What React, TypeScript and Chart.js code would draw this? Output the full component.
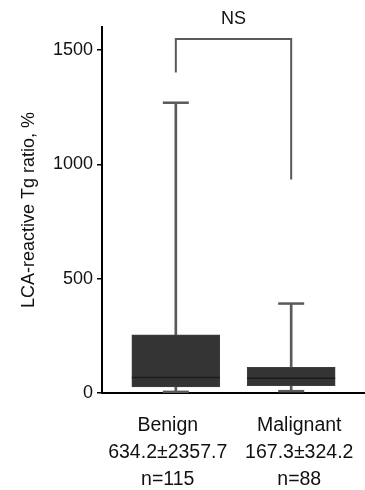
import React, { useEffect, useRef } from "react";
import { Chart, registerables } from "chart.js";

Chart.register(...registerables);

// ---- data ----
const categories = ["Benign", "Malignant"];
const meanSd = ["634.2±2357.7", "167.3±324.2"];
const counts = ["n=115", "n=88"];
const groupIndex = [0, 1];
const whiskerLow = [5, 8];
const q1 = [27, 32];
const median = [68, 65];
const q3 = [254, 112];
const whiskerHigh = [1269, 391];
const bracketEnds = [1401, 933];
const bracketTop = 1547;
const significance = "NS";
const yTicks = [0, 500, 1000, 1500];
const yMax = 1600;
const yTitle = "LCA-reactive Tg ratio, %";

const FONT = "'Liberation Sans', Arial, Helvetica, sans-serif";
const LINE = "#5a5a5a";
const W = 365;
const H = 490;

const annotationPlugin = {
  id: "nsLabel",
  afterDatasetsDraw(chart: any) {
    const { ctx, scales } = chart;
    const xs = scales.x;
    const ys = scales.y;
    const cx = (xs.getPixelForValue(groupIndex[0]) + xs.getPixelForValue(groupIndex[1])) / 2;
    const cy = ys.getPixelForValue(bracketTop) - 20;
    ctx.save();
    ctx.font = `18px ${FONT}`;
    ctx.fillStyle = "#111";
    ctx.textAlign = "center";
    ctx.textBaseline = "middle";
    ctx.fillText(significance, cx, cy);
    ctx.restore();
  },
};

export default function App() {
  const ref = useRef<HTMLCanvasElement | null>(null);

  useEffect(() => {
    if (!ref.current) return;
    Chart.defaults.font.family = FONT;
    const chart = new Chart(ref.current, {
      type: "bar",
      data: {
        datasets: [
          {
            type: "scatter",
            label: "bracket",
            data: [
              { x: groupIndex[0], y: bracketEnds[0] },
              { x: groupIndex[0], y: bracketTop },
              { x: groupIndex[1], y: bracketTop },
              { x: groupIndex[1], y: bracketEnds[1] },
            ],
            showLine: true,
            borderColor: LINE,
            borderWidth: 2,
            pointRadius: 0,
            xAxisID: "x",
            yAxisID: "y",
            order: 1,
          } as any,
          {
            type: "scatter",
            label: "median",
            data: groupIndex.map((i) => ({ x: i, y: median[i] })),
            pointStyle: "line",
            pointRadius: 44,
            borderColor: "#1c1c1c",
            borderWidth: 1.5,
            xAxisID: "x",
            yAxisID: "y",
            order: 1,
          } as any,
          {
            type: "scatter",
            label: "caps",
            data: [
              ...groupIndex.map((i) => ({ x: i, y: whiskerHigh[i] })),
              ...groupIndex.map((i) => ({ x: i, y: whiskerLow[i] })),
            ],
            pointStyle: "line",
            pointRadius: 13,
            borderColor: LINE,
            borderWidth: 2.5,
            xAxisID: "x",
            yAxisID: "y",
            order: 1,
          } as any,
          {
            type: "bar",
            label: "box",
            data: groupIndex.map((i) => ({ x: i, y: [q1[i], q3[i]] })),
            backgroundColor: "#343434",
            borderColor: "#3e3e3e",
            borderWidth: 1,
            borderSkipped: false,
            barThickness: 88,
            grouped: false,
            xAxisID: "x",
            yAxisID: "y",
            order: 2,
          } as any,
          {
            type: "bar",
            label: "whisker",
            data: groupIndex.map((i) => ({ x: i, y: [whiskerLow[i], whiskerHigh[i]] })),
            backgroundColor: LINE,
            barThickness: 2,
            grouped: false,
            xAxisID: "x",
            yAxisID: "y",
            order: 3,
          } as any,
        ],
      },
      options: {
        animation: false,
        responsive: false,
        maintainAspectRatio: false,
        devicePixelRatio: 1,
        layout: { autoPadding: false, padding: { top: 27, left: 0, right: 0, bottom: 0 } },
        plugins: {
          legend: { display: false },
          tooltip: { enabled: false },
        },
        scales: {
          x: {
            type: "linear",
            min: -0.64,
            max: 1.64,
            offset: false,
            display: false,
          },
          xLabels: {
            type: "category",
            position: "bottom",
            labels: categories.map((c, i) => [c, meanSd[i], counts[i]]),
            offset: true,
            grid: { display: false },
            border: { display: true, color: "#000", width: 2 },
            ticks: {
              font: { size: 19.5, lineHeight: 27 / 19.5 },
              color: "#111",
              padding: 11,
              maxRotation: 0,
              autoSkip: false,
            },
            afterFit: (s: any) => {
              s.height = 97;
            },
          },
          y: {
            type: "linear",
            position: "left",
            min: 0,
            max: yMax,
            afterBuildTicks: (s: any) => {
              s.ticks = yTicks.map((v) => ({ value: v }));
            },
            grid: {
              display: true,
              drawOnChartArea: false,
              drawTicks: true,
              tickLength: 5,
              color: "#000",
              lineWidth: 1.5,
            },
            border: { display: true, color: "#000", width: 2 },
            ticks: {
              font: { size: 18 },
              color: "#111",
              padding: 4,
              callback: (v: any) => String(v),
            },
            title: {
              display: true,
              text: yTitle,
              font: { size: 18 },
              color: "#111",
              padding: { top: 18, bottom: 0 },
            },
            afterFit: (s: any) => {
              s.width = 102;
            },
          },
        } as any,
      },
      plugins: [annotationPlugin],
    } as any);
    return () => chart.destroy();
  }, []);

  return (
    <div style={{ position: "absolute", left: 0, top: 0, width: W, height: H, background: "#fff" }}>
      <canvas ref={ref} width={W} height={H} style={{ display: "block", width: W, height: H }} />
    </div>
  );
}
